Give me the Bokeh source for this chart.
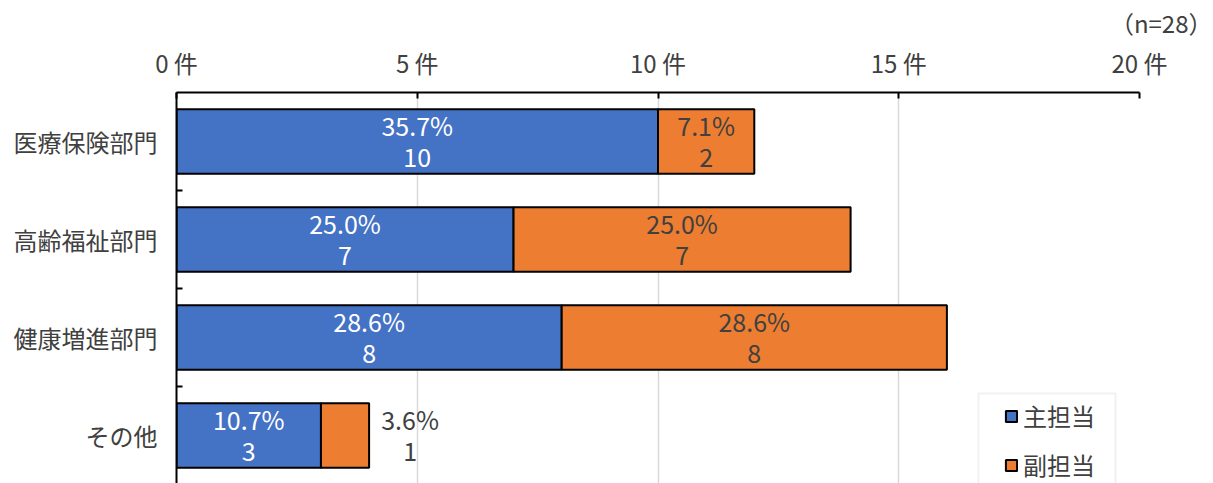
from bokeh.plotting import figure
from bokeh.models import (ColumnDataSource, Range1d, FixedTicker, Legend, LegendItem,
                          BoxAnnotation, Title)
from bokeh.core.properties import value
from bokeh.embed import file_html
from bokeh.resources import INLINE

# --- data -------------------------------------------------------------
categories = ["医療保険部門", "高齢福祉部門", "健康増進部門", "その他"]
main_counts = [10, 7, 8, 3]      # 主担当
sub_counts = [2, 7, 8, 1]        # 副担当
n_total = 28
series_names = ["主担当", "副担当"]
series_colors = ["#4472C4", "#ED7D31"]
x_ticks = [0, 5, 10, 15, 20]
x_tick_labels = ["0 件", "5 件", "10 件", "15 件", "20 件"]

FONT = "Noto Sans CJK JP"
TEXT = "#404040"

ypos = list(range(len(categories)))
sub_right = [m + s for m, s in zip(main_counts, sub_counts)]

bars = ColumnDataSource(dict(y=ypos, main=main_counts, end=sub_right))

p = figure(width=1213, height=483, output_backend="svg", toolbar_location=None,
           x_range=Range1d(0, 20), y_range=Range1d(3.49, -0.5),
           x_axis_location="above",
           min_border_left=176, min_border_right=74,
           min_border_top=92, min_border_bottom=0,
           outline_line_color=None, background_fill_color="white")

# top value axis
xa = p.xaxis[0]
xa.ticker = FixedTicker(ticks=x_ticks)
xa.major_label_overrides = {t: lab for t, lab in zip(x_ticks, x_tick_labels)}
xa.major_label_text_font = FONT
xa.major_label_text_font_size = "24px"
xa.major_label_text_color = TEXT
xa.major_label_standoff = 13
xa.major_tick_in = 6
xa.major_tick_out = 0
xa.major_tick_line_width = 2
xa.major_tick_line_color = "black"
xa.minor_tick_line_color = None
xa.axis_line_width = 2
xa.axis_line_color = "black"

# left category axis, ticks between categories
ya = p.yaxis[0]
ya.ticker = FixedTicker(ticks=ypos, minor_ticks=[i + 0.5 for i in ypos])
ya.major_label_overrides = {i: c for i, c in zip(ypos, categories)}
ya.major_label_text_font = FONT
ya.major_label_text_font_size = "24px"
ya.major_label_text_color = TEXT
ya.major_label_standoff = 19
ya.major_tick_in = 0
ya.major_tick_out = 0
ya.minor_tick_in = 6
ya.minor_tick_out = 0
ya.minor_tick_line_width = 2
ya.minor_tick_line_color = "black"
ya.axis_line_width = 2
ya.axis_line_color = "black"

p.ygrid.grid_line_color = None
p.xgrid.ticker = FixedTicker(ticks=[5, 10, 15])
p.xgrid.grid_line_color = "#d9d9d9"
p.xgrid.grid_line_width = 1.5

# stacked bars
r_main = p.hbar(y="y", left=0, right="main", height=0.66, source=bars,
                fill_color=series_colors[0], line_color="black", line_width=2)
r_sub = p.hbar(y="y", left="main", right="end", height=0.66, source=bars,
               fill_color=series_colors[1], line_color="black", line_width=2)

# segment labels: percentage over count
lab_x, lab_y, lab_pct, lab_cnt, lab_col, lab_off = [], [], [], [], [], []
for i, (m, s) in enumerate(zip(main_counts, sub_counts)):
    lab_x.append(m / 2); lab_y.append(i)
    lab_pct.append(f"{m / n_total * 100:.1f}%"); lab_cnt.append(str(m))
    lab_col.append("white"); lab_off.append(0)
    if s >= 1.5:
        lab_x.append(m + s / 2); lab_off.append(0)
    else:
        lab_x.append(m + s); lab_off.append(41)
    lab_y.append(i)
    lab_pct.append(f"{s / n_total * 100:.1f}%"); lab_cnt.append(str(s))
    lab_col.append(TEXT)

labels = ColumnDataSource(dict(x=lab_x, y=lab_y, pct=lab_pct, cnt=lab_cnt,
                               col=lab_col, off=lab_off))
for field, dy in (("pct", -16), ("cnt", 16)):
    p.text(x="x", y="y", text=field, source=labels, x_offset="off", y_offset=dy,
           text_align="center", text_baseline="middle",
           text_font=value(FONT), text_font_size="25px", text_color="col")

# legend
legend = Legend(items=[LegendItem(label=series_names[0], renderers=[r_main]),
                       LegendItem(label=series_names[1], renderers=[r_sub])],
                location=(816, -11), orientation="vertical",
                label_text_font=FONT, label_text_font_size="24px",
                label_text_color=TEXT, label_height=24, label_standoff=5,
                glyph_width=14, glyph_height=14, spacing=14, padding=12, margin=0,
                border_line_alpha=0, background_fill_alpha=0)
p.add_layout(legend)
p.add_layout(BoxAnnotation(left=802, right=939, top=90, bottom=-30,
                           left_units="screen", right_units="screen",
                           top_units="screen", bottom_units="screen",
                           fill_alpha=0, line_color="#cfcfcf", line_width=2))

# sample size note, top right
p.add_layout(Title(text=f"（n={n_total}）", align="right", offset=-73,
                   text_font=FONT, text_font_size="24px", text_color=TEXT,
                   text_font_style="normal", standoff=3), "above")

open("out.html", "w").write(file_html(p, INLINE))
